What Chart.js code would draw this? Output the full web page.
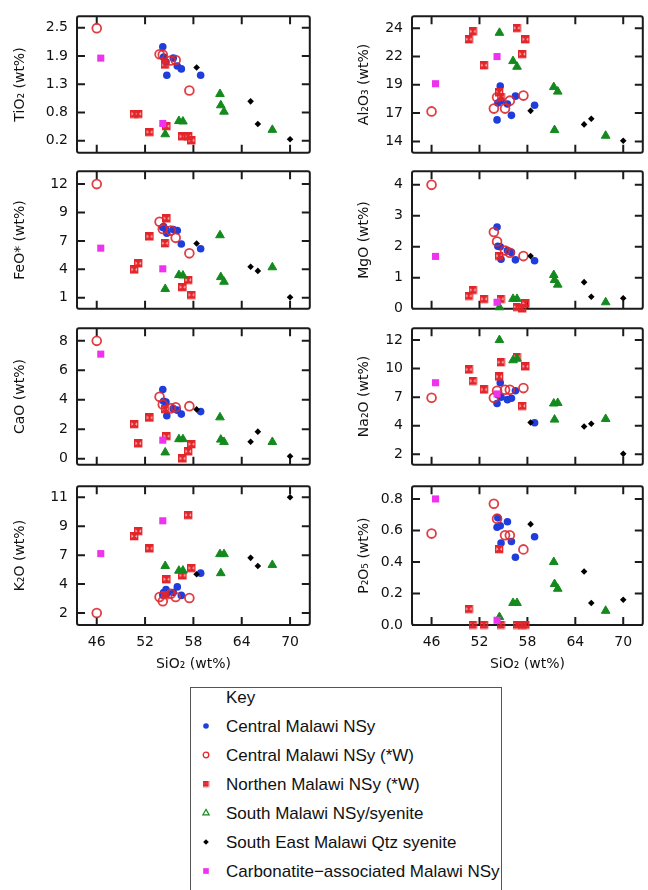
<!DOCTYPE html>
<html>
<head>
<meta charset="utf-8">
<script src="https://cdn.jsdelivr.net/npm/chart.js@4.4.1/dist/chart.umd.min.js"></script>
<style>
  body { margin: 0; background: #fff; }
  #page { position: relative; width: 648px; height: 890px; overflow: hidden; background: #fff; }
  .panel { position: absolute; }
  #key { position: absolute; left: 190px; top: 687px; width: 312px; height: 230px;
         border: 1.5px solid #555; box-sizing: border-box;
         font-family: "Liberation Sans", Arial, sans-serif; font-size: 17px; color: #111; }
  .row { position: absolute; left: 0; height: 29px; line-height: 29px; width: 100%; white-space: nowrap; }
  .row canvas { position: absolute; left: 8px; top: 7px; }
  .row span { position: absolute; left: 35px; }
</style>
</head>
<body>
<div id="page">
  <div id="key"></div>
</div>
<script>
// ---- data (wt%) ----
const seriesNames = [
  'Central Malawi NSy',
  'Central Malawi NSy (*W)',
  'Northen Malawi NSy (*W)',
  'South Malawi NSy/syenite',
  'South East Malawi Qtz syenite',
  'Carbonatite\u2212associated Malawi NSy'
];

// Central Malawi NSy
const centralSiO2  = [54.2, 54.3, 54.6, 54.7, 55.5, 56.0, 56.5, 58.9];
const centralTiO2  = [2.11, 1.90, 1.80, 1.53, 1.88, 1.72, 1.66, 1.53];
const centralAl2O3 = [15.9, 17.4, 18.9, 17.6, 17.3, 16.3, 18.0, 17.2];
const centralFeO   = [7.8, 7.9, 7.6, 7.25, 7.6, 7.5, 6.2, 5.75];
const centralMgO   = [2.64, 2.02, 2.0, 1.6, 1.88, 1.82, 1.58, 1.55];
const centralCaO   = [4.7, 3.9, 3.85, 2.92, 3.4, 3.3, 3.03, 3.2];
const centralNa2O  = [6.44, 7.2, 8.26, 7.0, 6.78, 6.9, 7.56, 4.75];
const centralK2O   = [3.4, 3.6, 3.83, 3.5, 3.6, 4.03, 3.37, 5.1];
const centralP2O5  = [0.62, 0.68, 0.63, 0.52, 0.655, 0.53, 0.43, 0.56];

// Central Malawi NSy (*W)
const centralWSiO2  = [46.0, 53.8, 54.2, 55.2, 55.8, 57.5];
const centralWTiO2  = [2.49, 1.96, 1.95, 1.83, 1.84, 1.22];
const centralWAl2O3 = [16.65, 16.9, 17.9, 16.9, 17.6, 18.05];
const centralWFeO   = [12.0, 8.35, 7.65, 7.5, 6.8, 5.3];
const centralWMgO   = [4.0, 2.48, 2.17, 1.88, 1.81, 1.7];
const centralWCaO   = [8.0, 4.2, 3.68, 3.42, 3.5, 3.57];
const centralWNa2O  = [6.95, 6.95, 7.56, 7.64, 7.64, 7.79];
const centralWK2O   = [2.0, 3.25, 2.92, 3.5, 3.25, 3.17];
const centralWP2O5  = [0.58, 0.77, 0.675, 0.57, 0.57, 0.48];

// Northen Malawi NSy (*W)
const northSiO2  = [50.7, 51.2, 52.6, 54.5, 54.7, 56.7, 57.4, 57.8];
const northTiO2  = [0.74, 0.74, 0.37, 1.74, 0.49, 0.28, 0.28, 0.2];
const northAl2O3 = [23.0, 23.7, 20.7, 18.3, 17.9, 24.0, 21.7, 23.0];
const northFeO   = [3.7, 4.3, 6.9, 6.25, 8.65, 2.0, 2.7, 1.25];
const northMgO   = [0.41, 0.6, 0.31, 1.7, 0.31, 0.05, 0.0, 0.16];
const northCaO   = [2.33, 1.02, 2.77, 3.35, 1.52, 0.0, 0.48, 0.97];
const northNa2O  = [9.39, 8.4, 7.64, 8.77, 10.03, 10.5, 6.21, 9.67];
const northK2O   = [7.95, 8.35, 7.0, 3.4, 4.6, 4.9, 9.6, 5.48];
const northP2O5  = [0.1, 0, 0, 0.48, 0, 0, 0, 0];

// South Malawi NSy/syenite
const southSiO2  = [54.5, 56.2, 56.7, 61.3, 61.4, 61.8, 67.8];
const southTiO2  = [0.33, 0.6, 0.59, 1.15, 0.92, 0.79, 0.42];
const southAl2O3 = [23.6, 21.1, 20.6, 18.8, 15.0, 18.4, 14.5];
const southFeO   = [1.85, 3.2, 3.15, 7.05, 3.0, 2.55, 3.95];
const southMgO   = [0.05, 0.32, 0.32, 1.09, 0.93, 0.78, 0.21];
const southCaO   = [0.43, 1.33, 1.33, 2.81, 1.3, 1.14, 1.14];
const southNa2O  = [12.0, 10.23, 10.37, 6.44, 5.03, 6.49, 5.09];
const southK2O   = [5.66, 5.29, 5.3, 6.58, 5.1, 6.58, 5.74];
const southP2O5  = [0.05, 0.14, 0.14, 0.40, 0.26, 0.23, 0.09];

// South East Malawi Qtz syenite
const seSiO2  = [58.4, 65.1, 66.0, 70.0];
const seTiO2  = [1.69, 1.0, 0.54, 0.23];
const seAl2O3 = [16.7, 15.5, 16.0, 14.06];
const seFeO   = [6.25, 4.0, 3.6, 1.05];
const seMgO   = [1.7, 0.86, 0.39, 0.34];
const seCaO   = [3.35, 1.15, 1.84, 0.17];
const seNa2O  = [4.78, 4.42, 4.67, 2.03];
const seK2O   = [5.02, 6.29, 5.66, 11.0];
const seP2O5  = [0.64, 0.34, 0.14, 0.16];

// Carbonatite-associated Malawi NSy
const carbSiO2  = [46.5, 54.2];
const carbTiO2  = [1.88, 0.55];
const carbAl2O3 = [19.1, 21.5];
const carbFeO   = [5.8, 3.8];
const carbMgO   = [1.69, 0.21];
const carbCaO   = [7.1, 1.26];
const carbNa2O  = [8.26, 7.28];
const carbK2O   = [6.62, 9.17];
const carbP2O5  = [0.80, 0.03];

// ticks (evenly spaced, labels rounded as printed)
const sio2Ticks  = [46, 52, 58, 64, 70];
const tio2Ticks  = [0.2, 0.775, 1.35, 1.925, 2.5];
const tio2Labels = ['0.2', '0.8', '1.3', '1.9', '2.5'];
const al2o3Ticks  = [14, 16.5, 19, 21.5, 24];
const al2o3Labels = ['14', '17', '19', '22', '24'];
const feoTicks  = [1, 3.75, 6.5, 9.25, 12];
const feoLabels = ['1', '4', '7', '9', '12'];
const mgoTicks  = [0, 1, 2, 3, 4];
const mgoLabels = ['0', '1', '2', '3', '4'];
const caoTicks  = [0, 2, 4, 6, 8];
const caoLabels = ['0', '2', '4', '6', '8'];
const na2oTicks  = [2, 4.5, 7, 9.5, 12];
const na2oLabels = ['2', '4', '7', '10', '12'];
const k2oTicks  = [2, 4.25, 6.5, 8.75, 11];
const k2oLabels = ['2', '4', '7', '9', '11'];
const p2o5Ticks  = [0, 0.2, 0.4, 0.6, 0.8];
const p2o5Labels = ['0.0', '0.2', '0.4', '0.6', '0.8'];

// ---- marker styles ----
const RED = '#e3262b';
function northernSymbol(size) {
  const c = document.createElement('canvas');
  c.width = size; c.height = size;
  const g = c.getContext('2d');
  const s = size - 1.5;
  g.fillStyle = RED; g.strokeStyle = RED; g.lineWidth = 1.6;
  g.beginPath();
  g.moveTo(0.75, 0.75); g.lineTo(s, 0.75); g.lineTo(size / 2, size / 2); g.closePath();
  g.moveTo(0.75, s); g.lineTo(s, s); g.lineTo(size / 2, size / 2); g.closePath();
  g.fill();
  g.strokeRect(0.75, 0.75, s - 0.75, s - 0.75);
  g.beginPath();
  g.moveTo(0.75, 0.75); g.lineTo(s, s);
  g.moveTo(s, 0.75); g.lineTo(0.75, s);
  g.stroke();
  return c;
}

const series = [
  { name: seriesNames[0], sio2: centralSiO2,
    vals: { TiO2: centralTiO2, Al2O3: centralAl2O3, FeO: centralFeO, MgO: centralMgO, CaO: centralCaO, Na2O: centralNa2O, K2O: centralK2O, P2O5: centralP2O5 },
    style: { pointStyle: 'circle', radius: 3.8, backgroundColor: '#1f3ddb', borderColor: '#1f3ddb', borderWidth: 0 },
    key: { pointStyle: 'circle', radius: 2.8, fill: '#1f3ddb', stroke: '#1f3ddb', borderWidth: 0 } },
  { name: seriesNames[1], sio2: centralWSiO2,
    vals: { TiO2: centralWTiO2, Al2O3: centralWAl2O3, FeO: centralWFeO, MgO: centralWMgO, CaO: centralWCaO, Na2O: centralWNa2O, K2O: centralWK2O, P2O5: centralWP2O5 },
    style: { pointStyle: 'circle', radius: 4.4, backgroundColor: 'rgba(255,255,255,0)', borderColor: 'rgba(222,40,45,0.9)', borderWidth: 1.8 },
    key: { pointStyle: 'circle', radius: 2.8, fill: 'rgba(255,255,255,0)', stroke: RED, borderWidth: 1.3 } },
  { name: seriesNames[2], sio2: northSiO2,
    vals: { TiO2: northTiO2, Al2O3: northAl2O3, FeO: northFeO, MgO: northMgO, CaO: northCaO, Na2O: northNa2O, K2O: northK2O, P2O5: northP2O5 },
    style: { pointStyle: northernSymbol(9), radius: 4.5 },
    key: { pointStyle: northernSymbol(7), radius: 3.5, fill: RED, stroke: RED, borderWidth: 0 } },
  { name: seriesNames[3], sio2: southSiO2,
    vals: { TiO2: southTiO2, Al2O3: southAl2O3, FeO: southFeO, MgO: southMgO, CaO: southCaO, Na2O: southNa2O, K2O: southK2O, P2O5: southP2O5 },
    style: { pointStyle: 'triangle', radius: 5, backgroundColor: '#148a1e', borderColor: '#148a1e', borderWidth: 1 },
    key: { pointStyle: 'triangle', radius: 3.6, fill: 'rgba(255,255,255,0)', stroke: '#148a1e', borderWidth: 1.2 } },
  { name: seriesNames[4], sio2: seSiO2,
    vals: { TiO2: seTiO2, Al2O3: seAl2O3, FeO: seFeO, MgO: seMgO, CaO: seCaO, Na2O: seNa2O, K2O: seK2O, P2O5: seP2O5 },
    style: { pointStyle: 'rectRot', radius: 3.3, backgroundColor: '#000', borderColor: '#000', borderWidth: 0 },
    key: { pointStyle: 'rectRot', radius: 2.8, fill: '#000', stroke: '#000', borderWidth: 0 } },
  { name: seriesNames[5], sio2: carbSiO2,
    vals: { TiO2: carbTiO2, Al2O3: carbAl2O3, FeO: carbFeO, MgO: carbMgO, CaO: carbCaO, Na2O: carbNa2O, K2O: carbK2O, P2O5: carbP2O5 },
    style: { pointStyle: 'rect', radius: 5, backgroundColor: '#ee33ee', borderColor: '#ee33ee', borderWidth: 0 },
    key: { pointStyle: 'rect', radius: 4, fill: '#ee33ee', stroke: '#ee33ee', borderWidth: 0 } }
];

// ---- layout ----
const panels = [
  { key: 'TiO2',  title: 'TiO\u2082 (wt%)',          ticks: tio2Ticks,  labels: tio2Labels,  min: -0.047, max: 2.733, col: 0, row: 0 },
  { key: 'Al2O3', title: 'Al\u2082O\u2083 (wt%)',    ticks: al2o3Ticks, labels: al2o3Labels, min: 12.99,  max: 25.07, col: 1, row: 0 },
  { key: 'FeO',   title: 'FeO* (wt%)',               ticks: feoTicks,   labels: feoLabels,   min: -0.07,  max: 13.25, col: 0, row: 1 },
  { key: 'MgO',   title: 'MgO (wt%)',                ticks: mgoTicks,   labels: mgoLabels,   min: 0,      max: 4.44,  col: 1, row: 1 },
  { key: 'CaO',   title: 'CaO (wt%)',                ticks: caoTicks,   labels: caoLabels,   min: -0.41,  max: 8.86,  col: 0, row: 2 },
  { key: 'Na2O',  title: 'Na\u2082O (wt%)',          ticks: na2oTicks,  labels: na2oLabels,  min: 1.07,   max: 13.04, col: 1, row: 2 },
  { key: 'K2O',   title: 'K\u2082O (wt%)',           ticks: k2oTicks,   labels: k2oLabels,   min: 1.07,   max: 11.86, col: 0, row: 3 },
  { key: 'P2O5',  title: 'P\u2082O\u2085 (wt%)',     ticks: p2o5Ticks,  labels: p2o5Labels,  min: 0,      max: 0.881, col: 1, row: 3 }
];

const cols = [
  { canvasLeft: 0,   boxLeft: 77,  boxRight: 313, titlePad: 12 },
  { canvasLeft: 340, boxLeft: 412, boxRight: 646, titlePad: 16 }
];
const rows = [
  { top: 13,  bottom: 156 },
  { top: 168, bottom: 312 },
  { top: 325, bottom: 468 },
  { top: 483, bottom: 625 }
];
const PAD = 3;
const XAXIS_H = 48;
const TICK_LEN = 8;
const tickFont = { family: 'DejaVu Sans', size: 14 };

// box with inward ticks on all four sides
const frame = {
  id: 'frame',
  beforeDatasetsDraw(chart) {
    const { ctx, chartArea: a, scales } = chart;
    ctx.save();
    ctx.strokeStyle = '#1b1b1b';
    ctx.lineWidth = 2;
    ctx.beginPath();
    ctx.roundRect(a.left, a.top, a.right - a.left, a.bottom - a.top, 2);
    scales.x.ticks.forEach(t => {
      const px = scales.x.getPixelForValue(t.value);
      ctx.moveTo(px, a.bottom); ctx.lineTo(px, a.bottom - TICK_LEN);
      ctx.moveTo(px, a.top); ctx.lineTo(px, a.top + TICK_LEN);
    });
    scales.y.ticks.forEach(t => {
      const py = scales.y.getPixelForValue(t.value);
      ctx.moveTo(a.left, py); ctx.lineTo(a.left + TICK_LEN, py);
      ctx.moveTo(a.right, py); ctx.lineTo(a.right - TICK_LEN, py);
    });
    ctx.stroke();
    ctx.restore();
  }
};

const page = document.getElementById('page');

panels.forEach(p => {
  const col = cols[p.col];
  const row = rows[p.row];
  const bottomRow = p.row === rows.length - 1;
  const yAxisW = col.boxLeft - col.canvasLeft;
  const xAxisH = bottomRow ? XAXIS_H : PAD;
  const w = col.boxRight + PAD - col.canvasLeft;
  const h = row.bottom - row.top + PAD + xAxisH;

  const wrap = document.createElement('div');
  wrap.className = 'panel';
  wrap.style.left = col.canvasLeft + 'px';
  wrap.style.top = (row.top - PAD) + 'px';
  const canvas = document.createElement('canvas');
  canvas.width = w; canvas.height = h;
  canvas.style.width = w + 'px'; canvas.style.height = h + 'px';
  wrap.appendChild(canvas);
  page.appendChild(wrap);

  const datasets = series.map((s, i) => Object.assign({
    label: s.name,
    data: s.sio2.map((x, j) => ({ x, y: s.vals[p.key][j] })),
    order: series.length - i,
    clip: false
  }, s.style));

  new Chart(canvas, {
    type: 'scatter',
    data: { datasets },
    options: {
      responsive: false,
      animation: false,
      layout: { padding: { top: PAD, right: PAD, left: 0, bottom: 0 } },
      plugins: { legend: { display: false }, tooltip: { enabled: false } },
      scales: {
        x: {
          type: 'linear', min: 43.55, max: 72.45,
          afterBuildTicks: s => { s.ticks = sio2Ticks.map(v => ({ value: v })); },
          afterFit: s => { s.height = xAxisH; s.paddingLeft = 0; s.paddingRight = 0; },
          grid: { display: false, drawTicks: false },
          border: { display: false },
          ticks: { display: bottomRow, autoSkip: false, maxRotation: 0, padding: 9, color: '#111', font: tickFont },
          title: { display: bottomRow, text: 'SiO\u2082 (wt%)', color: '#111', font: tickFont, padding: 0 }
        },
        y: {
          type: 'linear', min: p.min, max: p.max,
          afterBuildTicks: s => { s.ticks = p.ticks.map(v => ({ value: v })); },
          afterFit: s => { s.width = yAxisW; s.paddingTop = 0; s.paddingBottom = 0; },
          grid: { display: false, drawTicks: false },
          border: { display: false },
          ticks: { autoSkip: false, padding: 9, color: '#111', font: tickFont,
                   callback: (v, i) => p.labels[i] },
          title: { display: true, text: p.title, color: '#111', font: tickFont,
                   padding: { top: col.titlePad, bottom: 0 } }
        }
      }
    },
    plugins: [frame]
  });
});

// ---- key ----
const key = document.getElementById('key');
const keyRows = ['Key'].concat(seriesNames);
keyRows.forEach((txt, i) => {
  const r = document.createElement('div');
  r.className = 'row';
  r.style.top = (-5 + 29 * i) + 'px';
  if (i > 0) {
    const st = series[i - 1].key;
    const c = document.createElement('canvas');
    c.width = 14; c.height = 14;
    const g = c.getContext('2d');
    g.fillStyle = st.fill;
    g.strokeStyle = st.stroke;
    g.lineWidth = st.borderWidth;
    Chart.helpers.drawPoint(g, { pointStyle: st.pointStyle, radius: st.radius, rotation: 0, borderWidth: st.borderWidth }, 7, 7);
    r.appendChild(c);
  }
  const sp = document.createElement('span');
  sp.textContent = txt;
  r.appendChild(sp);
  key.appendChild(r);
});
</script>
</body>
</html>
